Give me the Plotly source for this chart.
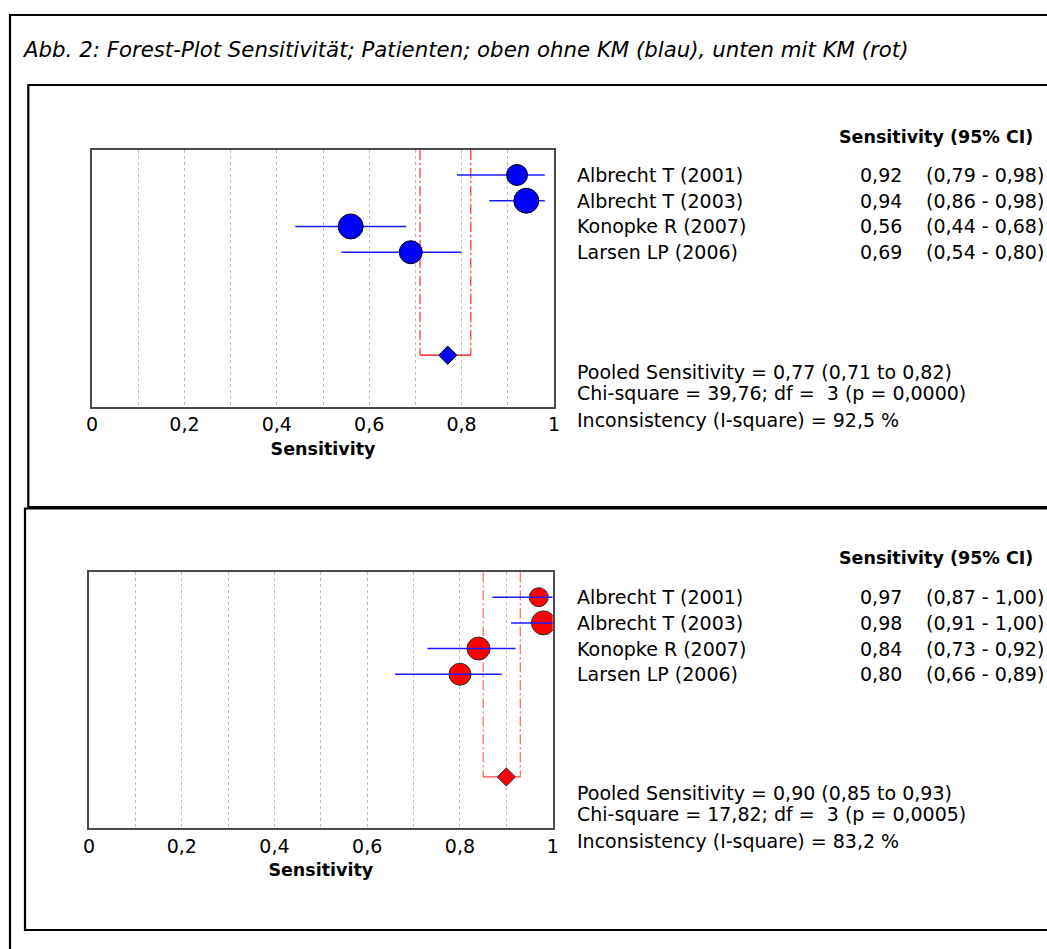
import plotly.graph_objects as go

# ---- data -------------------------------------------------------------
studies = ["Albrecht T (2001)", "Albrecht T (2003)", "Konopke R (2007)", "Larsen LP (2006)"]

# without contrast agent (blue)
sens_ohne = [0.92, 0.94, 0.56, 0.69]
lo_ohne = [0.79, 0.86, 0.44, 0.54]
hi_ohne = [0.98, 0.98, 0.68, 0.80]
pooled_ohne = [0.77, 0.71, 0.82]          # estimate, lower, upper
chi2_ohne, p_ohne, i2_ohne = 39.76, 0.0000, 92.5

# with contrast agent (red)
sens_mit = [0.97, 0.98, 0.84, 0.80]
lo_mit = [0.87, 0.91, 0.73, 0.66]
hi_mit = [1.00, 1.00, 0.92, 0.89]
pooled_mit = [0.90, 0.85, 0.93]
chi2_mit, p_mit, i2_mit = 17.82, 0.0005, 83.2

tick_vals = [0, 0.2, 0.4, 0.6, 0.8, 1]
tick_text = ["0", "0,2", "0,4", "0,6", "0,8", "1"]
grid_vals = [0.1, 0.2, 0.3, 0.4, 0.5, 0.6, 0.7, 0.8, 0.9]

# ---- styling ---------------------------------------------------------
W, H = 1047, 949
FONT = "DejaVu Sans"
dot_px_ohne = [21, 25, 25, 23]
dot_px_mit = [19, 24, 23, 22]


def fx(x):
    return x / W


def fy(y):
    return 1 - y / H


def de(v, nd=2):
    return f"{v:.{nd}f}".replace(".", ",")


rows = list(range(1, len(studies) + 1))
pooled_row = 8
y_range = [10.0, 0.03]

fig = go.Figure()
annotations = []
shapes = []


def ci_trace(sens, lo, hi, xa, ya):
    # horizontal confidence-interval bars (marker itself hidden)
    return go.Scatter(
        x=sens, y=rows, mode="markers",
        marker=dict(size=1, opacity=0),
        error_x=dict(type="data", symmetric=False,
                     array=[h - s for h, s in zip(hi, sens)],
                     arrayminus=[s - l for s, l in zip(sens, lo)],
                     color="#1a1aff", thickness=1.5, width=0),
        xaxis=xa, yaxis=ya, hoverinfo="skip", showlegend=False)


def panel(ax, sens, lo, hi, pooled, chi2, p, i2, dots, fill, outline, ref_red, dy,
          bars_on_top):
    xa = "x" if ax == 1 else f"x{ax}"
    ya = "y" if ax == 1 else f"y{ax}"
    # pooled confidence band: vertical dash-dot lines + closing bar
    for xv in (pooled[1], pooled[2]):
        fig.add_trace(go.Scatter(x=[xv, xv], y=[y_range[1], pooled_row], mode="lines",
                                 line=dict(color=ref_red, width=1, dash="10px,3px,2px,3px"),
                                 xaxis=xa, yaxis=ya, hoverinfo="skip", showlegend=False))
    fig.add_trace(go.Scatter(x=[pooled[1], pooled[2]], y=[pooled_row, pooled_row], mode="lines",
                             line=dict(color=ref_red, width=1.2),
                             xaxis=xa, yaxis=ya, hoverinfo="skip", showlegend=False))
    if not bars_on_top:
        fig.add_trace(ci_trace(sens, lo, hi, xa, ya))
    # study estimates
    fig.add_trace(go.Scatter(
        x=sens, y=rows, mode="markers",
        marker=dict(symbol="circle", size=dots, color=fill, opacity=1,
                    line=dict(color=outline, width=1)),
        xaxis=xa, yaxis=ya, showlegend=False))
    if bars_on_top:
        fig.add_trace(ci_trace(sens, lo, hi, xa, ya))
    # pooled estimate
    fig.add_trace(go.Scatter(
        x=[pooled[0]], y=[pooled_row], mode="markers",
        marker=dict(symbol="diamond", size=14, color=fill, opacity=1,
                    line=dict(color=outline, width=1)),
        xaxis=xa, yaxis=ya, showlegend=False))

    # right-hand table
    annotations.append(dict(x=fx(1035), y=fy(137 + dy), xref="paper", yref="paper",
                            text="<b>Sensitivity (95% CI)</b>", showarrow=False,
                            xanchor="right", yanchor="middle",
                            font=dict(family=FONT, size=17.5, color="black")))
    for r, name, s, l, h in zip(rows, studies, sens, lo, hi):
        annotations.append(dict(x=fx(575), y=r, xref="paper", yref=ya, text=name,
                                showarrow=False, xanchor="left", yanchor="middle",
                                font=dict(family=FONT, size=19, color="black")))
        annotations.append(dict(x=fx(904), y=r, xref="paper", yref=ya, text=de(s),
                                showarrow=False, xanchor="right", yanchor="middle",
                                font=dict(family=FONT, size=19, color="black")))
        annotations.append(dict(x=fx(1046), y=r, xref="paper", yref=ya,
                                text=f"({de(l)} - {de(h)})",
                                showarrow=False, xanchor="right", yanchor="middle",
                                font=dict(family=FONT, size=19, color="black")))
    stats = [
        f"Pooled Sensitivity = {de(pooled[0])} ({de(pooled[1])} to {de(pooled[2])})",
        f"Chi-square = {de(chi2)}; df =\u00a0 {len(studies) - 1} (p = {de(p, 4)})",
        f"Inconsistency (I-square) = {de(i2, 1)} %",
    ]
    for txt, yy in zip(stats, (372, 393, 420)):
        annotations.append(dict(x=fx(575), y=fy(yy + dy), xref="paper", yref="paper",
                                text=txt, showarrow=False, xanchor="left", yanchor="middle",
                                font=dict(family=FONT, size=19, color="black")))


panel(1, sens_ohne, lo_ohne, hi_ohne, pooled_ohne, chi2_ohne, p_ohne, i2_ohne,
      dot_px_ohne, "#0000ff", "#000000", "#ff0000", 0, False)
panel(2, sens_mit, lo_mit, hi_mit, pooled_mit, chi2_mit, p_mit, i2_mit,
      dot_px_mit, "#ff0000", "#303030", "#ff4040", 421, True)


def xaxis(domain, anchor):
    return dict(domain=domain, anchor=anchor, range=[0, 1], fixedrange=True,
                tickmode="array", tickvals=tick_vals, ticktext=tick_text, ticks="",
                showgrid=False, zeroline=False,
                minor=dict(tickmode="array", tickvals=grid_vals, showgrid=True,
                           gridcolor="#bdbdbd", gridwidth=1, griddash="3px,3px", ticks=""),
                showline=True, mirror=True, linecolor="#4a4a4a", linewidth=1.5,
                tickfont=dict(family=FONT, size=19, color="black"),
                title=dict(text="<b>Sensitivity</b>", standoff=8,
                           font=dict(family=FONT, size=17.5, color="black")),
                automargin=False)


def yaxis(domain, anchor):
    return dict(domain=domain, anchor=anchor, range=y_range, fixedrange=True,
                showticklabels=False, ticks="", showgrid=False, zeroline=False,
                showline=True, mirror=True, linecolor="#4a4a4a", linewidth=1.5,
                automargin=False)


# frames around the figure and the two panels
shapes.append(dict(type="line", xref="paper", yref="paper", x0=fx(10), x1=fx(10),
                   y0=fy(14), y1=fy(960), line=dict(color="black", width=2.2)))
shapes.append(dict(type="line", xref="paper", yref="paper", x0=fx(9), x1=fx(1060),
                   y0=fy(15), y1=fy(15), line=dict(color="black", width=2.2)))
shapes.append(dict(type="rect", xref="paper", yref="paper", x0=fx(28.3), x1=fx(1060),
                   y0=fy(85), y1=fy(507), line=dict(color="black", width=2.2)))
shapes.append(dict(type="rect", xref="paper", yref="paper", x0=fx(25), x1=fx(1060),
                   y0=fy(508.5), y1=fy(930), line=dict(color="black", width=2.2)))

annotations.append(dict(x=fx(20), y=fy(49), xref="paper", yref="paper",
                        text="<i>Abb. 2: Forest-Plot Sensitivität; Patienten; oben ohne KM (blau), unten mit KM (rot)</i>",
                        showarrow=False, xanchor="left", yanchor="middle",
                        font=dict(family=FONT, size=21.3, color="black")))

fig.update_layout(
    width=W, height=H, autosize=False,
    margin=dict(l=0, r=0, t=0, b=0, pad=0),
    paper_bgcolor="white", plot_bgcolor="white",
    xaxis=xaxis([fx(92), fx(554)], "y"),
    yaxis=yaxis([fy(406.7), fy(150)], "x"),
    xaxis2=xaxis([fx(89), fx(552.7)], "y2"),
    yaxis2=yaxis([fy(828.3), fy(572.3)], "x2"),
    annotations=annotations,
    shapes=shapes,
    showlegend=False,
)

fig.write_html("out.html")
